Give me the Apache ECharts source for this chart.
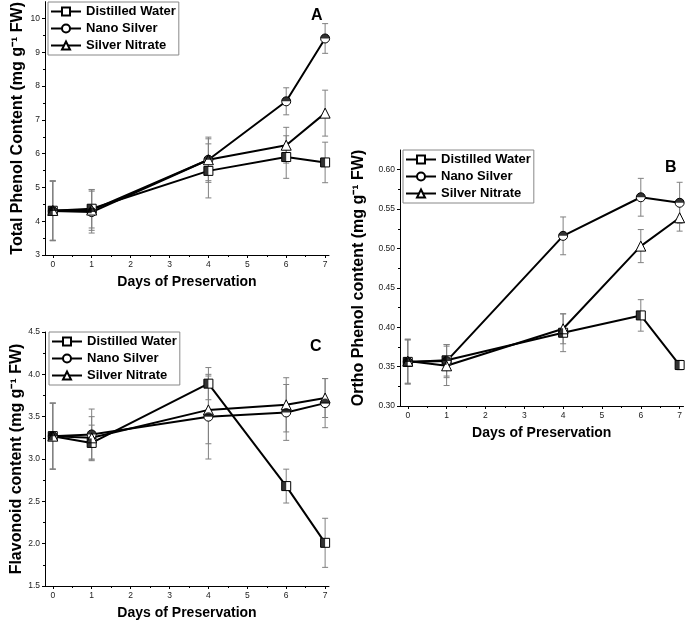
<!DOCTYPE html>
<html>
<head>
<meta charset="utf-8">
<script src="https://cdn.jsdelivr.net/npm/echarts@6/dist/echarts.min.js"></script>
<style>
  html, body { margin: 0; padding: 0; background: #fff; }
  #chart { width: 685px; height: 621px; }
</style>
</head>
<body>
<div id="chart"></div>
<script>
// days on the x axis
var days = [0, 1, 4, 6, 7];
var treatments = ['Distilled Water', 'Nano Silver', 'Silver Nitrate'];

// A - total phenol
var phenolDW = [4.31, 4.37, 5.49, 5.90, 5.74];
var phenolDWErr = [0.88, 0.57, 0.80, 0.63, 0.60];
var phenolNS = [4.30, 4.27, 5.82, 7.55, 9.41];
var phenolNSErr = [0.88, 0.62, 0.62, 0.40, 0.44];
var phenolSN = [4.32, 4.33, 5.82, 6.25, 7.20];
var phenolSNErr = [0.88, 0.60, 0.67, 0.53, 0.68];

// B - ortho phenol
var orthoDW = [0.356, 0.358, 0.393, 0.415, 0.352];
var orthoDWErr = [0.028, 0.020, 0.024, 0.020, 0.006];
var orthoNS = [0.356, 0.357, 0.516, 0.565, 0.558];
var orthoNSErr = [0.028, 0.021, 0.024, 0.024, 0.026];
var orthoSN = [0.357, 0.351, 0.398, 0.503, 0.539];
var orthoSNErr = [0.028, 0.025, 0.019, 0.021, 0.017];

// C - flavonoid
var flavDW = [3.27, 3.19, 3.89, 2.68, 2.01];
var flavDWErr = [0.39, 0.21, 0.19, 0.20, 0.29];
var flavNS = [3.27, 3.29, 3.50, 3.55, 3.66];
var flavNSErr = [0.39, 0.30, 0.50, 0.33, 0.29];
var flavSN = [3.27, 3.25, 3.58, 3.64, 3.72];
var flavSNErr = [0.39, 0.25, 0.40, 0.32, 0.23];

// tick labels
var xTicks = [0, 1, 2, 3, 4, 5, 6, 7];
var yTicksA = [3, 4, 5, 6, 7, 8, 9, 10];
var yTicksB = [0.30, 0.35, 0.40, 0.45, 0.50, 0.55, 0.60];
var yTicksC = [1.5, 2.0, 2.5, 3.0, 3.5, 4.0, 4.5];

var FONT = 'Liberation Sans, Arial, sans-serif';

var chart = echarts.init(document.getElementById('chart'));

// minor ticks half way between majors
function halves(ticks) {
  var out = [];
  for (var i = 0; i < ticks.length - 1; i++) out.push((ticks[i] + ticks[i + 1]) / 2);
  return out;
}

function mainX(gi) {
  return {
    type: 'value', gridIndex: gi, position: 'bottom', min: -0.2, max: 7.1,
    name: 'Days of Preservation', nameLocation: 'middle', nameGap: 20,
    nameTextStyle: { fontFamily: FONT, fontWeight: 'bold', fontSize: 14, color: '#000' },
    axisLine: { onZero: false, lineStyle: { color: '#000', width: 1 } },
    axisTick: { length: 3, customValues: xTicks, lineStyle: { color: '#000' } },
    axisLabel: { customValues: xTicks, fontFamily: FONT, fontSize: 8.5, color: '#222', margin: 5 },
    splitLine: { show: false }
  };
}
function minorX(gi) {
  return {
    type: 'value', gridIndex: gi, position: 'bottom', min: -0.2, max: 7.1,
    axisLine: { show: false, onZero: false },
    axisTick: { length: 2, customValues: halves(xTicks), lineStyle: { color: '#000' } },
    axisLabel: { show: false }, splitLine: { show: false }
  };
}
function mainY(gi, min, max, ticks, name, gap, fmt) {
  return {
    type: 'value', gridIndex: gi, position: 'left', min: min, max: max,
    name: name, nameLocation: 'middle', nameGap: gap,
    nameTextStyle: { fontFamily: FONT, fontWeight: 'bold', fontSize: 16, color: '#000' },
    axisLine: { onZero: false, lineStyle: { color: '#000', width: 1 } },
    axisTick: { length: 3, customValues: ticks, lineStyle: { color: '#000' } },
    axisLabel: { customValues: ticks, fontFamily: FONT, fontSize: 8.5, color: '#222', margin: 5, formatter: fmt },
    splitLine: { show: false }
  };
}
function minorY(gi, min, max, ticks) {
  return {
    type: 'value', gridIndex: gi, position: 'left', min: min, max: max,
    axisLine: { show: false, onZero: false },
    axisTick: { length: 2, customValues: halves(ticks), lineStyle: { color: '#000' } },
    axisLabel: { show: false }, splitLine: { show: false }
  };
}

// error bars
function errorSeries(ax, vals, errs) {
  return {
    type: 'custom', xAxisIndex: ax, yAxisIndex: ax, z: 1, silent: true,
    data: days.map(function (d, i) { return [d, vals[i], errs[i]]; }),
    encode: { x: 0, y: 1 },
    renderItem: function (params, api) {
      var x = api.value(0), y = api.value(1), e = api.value(2);
      var top = api.coord([x, y + e]);
      var bot = api.coord([x, y - e]);
      var st = { stroke: '#808080', lineWidth: 1 };
      return {
        type: 'group',
        children: [
          { type: 'line', shape: { x1: top[0], y1: top[1], x2: bot[0], y2: bot[1] }, style: st },
          { type: 'line', shape: { x1: top[0] - 3, y1: top[1], x2: top[0] + 3, y2: top[1] }, style: st },
          { type: 'line', shape: { x1: bot[0] - 3, y1: bot[1], x2: bot[0] + 3, y2: bot[1] }, style: st }
        ]
      };
    }
  };
}

var symbols = ['rect', 'circle', 'triangle'];
// black half of each marker
var halfSym = [
  { symbol: 'rect', size: [4.5, 9], offset: [-2.25, 0] },
  { symbol: 'path://M0,10 A10,10 0 0 1 20,10 Z', size: [9, 4.5], offset: [0, -2.25] },
  null
];

function panelSeries(ax, sets) {
  var out = [];
  sets.forEach(function (s, k) {
    var pts = days.map(function (d, i) { return [d, s.vals[i]]; });
    out.push(errorSeries(ax, s.vals, s.errs));
    out.push({
      name: treatments[k], type: 'line', xAxisIndex: ax, yAxisIndex: ax, z: 2,
      data: pts, symbol: symbols[k], symbolSize: k == 2 ? 10 : 9,
      lineStyle: { color: '#000', width: 2 },
      itemStyle: { color: '#fff', borderColor: '#000', borderWidth: 1 }
    });
    if (halfSym[k]) {
      out.push({
        name: treatments[k] + ' fill', type: 'scatter', xAxisIndex: ax, yAxisIndex: ax, z: 3, silent: true,
        data: pts, symbol: halfSym[k].symbol, symbolSize: halfSym[k].size, symbolOffset: halfSym[k].offset,
        itemStyle: { color: '#000' }
      });
    }
  });
  return out;
}

function legendAt(left, top) {
  return {
    data: treatments, orient: 'vertical', left: left, top: top,
    borderColor: '#888', borderWidth: 1, padding: [3, 3, 3, 2],
    itemWidth: 30, itemHeight: 10, itemGap: 4, selectedMode: false,
    textStyle: { fontFamily: FONT, fontWeight: 'bold', fontSize: 13, color: '#000' }
  };
}

function letter(txt, x, y) {
  return { type: 'text', left: x, top: y, style: { text: txt, font: 'bold 16px ' + FONT, fill: '#000' } };
}

var option = {
  animation: false,
  backgroundColor: '#fff',
  grid: [
    { left: 45, top: 0, width: 284, height: 255 },
    { left: 400, top: 150, width: 284, height: 256 },
    { left: 45, top: 332, width: 284, height: 255 }
  ],
  // A axes 0/1, B axes 2/3, C axes 4/5
  xAxis: [mainX(0), minorX(0), mainX(1), minorX(1), mainX(2), minorX(2)],
  yAxis: [
    mainY(0, 3, 10.5, yTicksA, 'Total Phenol Content (mg g\u207B\u00B9 FW)', 19, function (v) { return v; }),
    minorY(0, 3, 10.5, yTicksA),
    mainY(1, 0.30, 0.625, yTicksB, 'Ortho Phenol content (mg g\u207B\u00B9 FW)', 33, function (v) { return v.toFixed(2); }),
    minorY(1, 0.30, 0.625, yTicksB),
    mainY(2, 1.5, 4.5, yTicksC, 'Flavonoid content (mg g\u207B\u00B9 FW)', 19, function (v) { return v.toFixed(1); }),
    minorY(2, 1.5, 4.5, yTicksC)
  ],
  legend: [legendAt(48, 2), legendAt(403, 150), legendAt(49, 332)],
  graphic: [letter('A', 311, 8), letter('B', 665, 160), letter('C', 310, 339)],
  series: [].concat(
    panelSeries(0, [
      { vals: phenolDW, errs: phenolDWErr },
      { vals: phenolNS, errs: phenolNSErr },
      { vals: phenolSN, errs: phenolSNErr }
    ]),
    panelSeries(2, [
      { vals: orthoDW, errs: orthoDWErr },
      { vals: orthoNS, errs: orthoNSErr },
      { vals: orthoSN, errs: orthoSNErr }
    ]),
    panelSeries(4, [
      { vals: flavDW, errs: flavDWErr },
      { vals: flavNS, errs: flavNSErr },
      { vals: flavSN, errs: flavSNErr }
    ])
  )
};

chart.setOption(option);
</script>
</body>
</html>
